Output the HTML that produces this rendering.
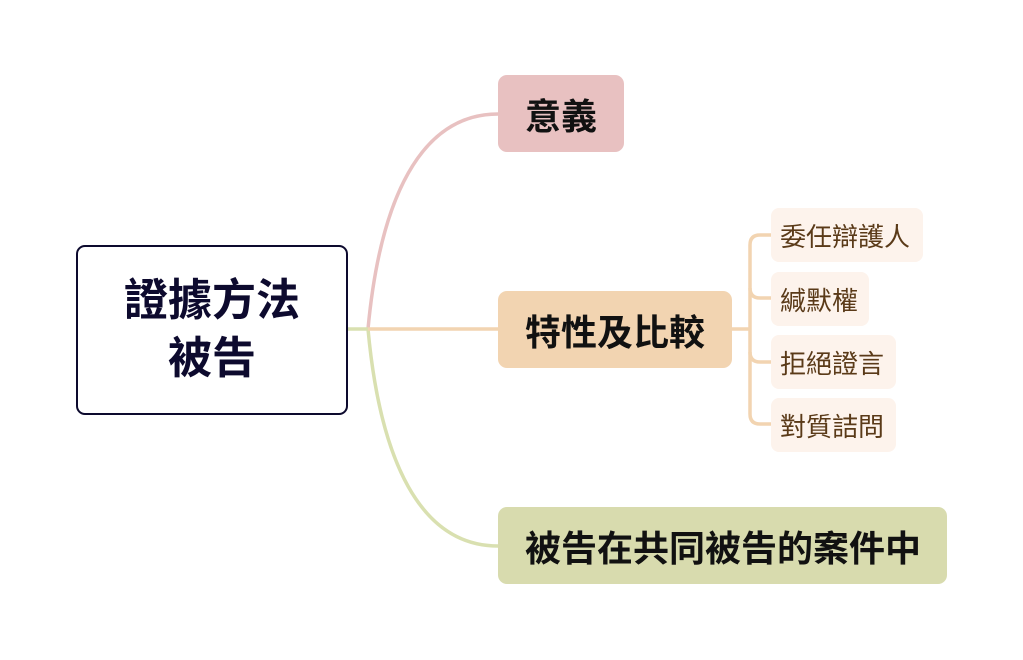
<!DOCTYPE html>
<html><head><meta charset="utf-8">
<style>
body{margin:0;width:1023px;height:660px;background:#fff;position:relative;overflow:hidden;font-family:"Liberation Sans","Noto Sans CJK TC",sans-serif;}
.n{position:absolute;box-sizing:border-box;display:flex;align-items:center;white-space:nowrap;}
.main{left:76px;top:245px;width:272px;height:170px;border:2.5px solid #0d0a2e;border-radius:9px;font-size:44px;font-weight:bold;color:#0d0a2e;text-align:center;line-height:58px;background:#fff;justify-content:center;}
.l1{height:77px;border-radius:9px;font-size:36px;font-weight:bold;color:#111;padding-left:27px;}
.l2{height:54px;border-radius:8px;background:#fdf3ec;font-size:26px;color:#5a3a18;padding-left:9px;}
</style></head><body>
<svg width="1023" height="660" style="position:absolute;left:0;top:0" fill="none" stroke-width="3.5">
<path d="M368 329 C 380 200, 420 114, 498 114" stroke="#e8c1c1"/>
<path d="M368 329 C 380 460, 420 546, 498 546" stroke="#d9e0b0"/>
<path d="M348 329 L368 329" stroke="#d9e0b0"/>
<path d="M368 329 L498 329" stroke="#f2d4b1"/>
<g stroke="#f2d4b1">
<path d="M732 329 L750 329"/>
<path d="M771 235 L760 235 Q750 235 750 245 L750 414 Q750 424 760 424 L771 424"/>
<path d="M750 288 Q750 298 760 298 L771 298"/>
<path d="M750 352 Q750 362 760 362 L771 362"/>
</g>
</svg>
<div class="n main">證據方法<br>被告</div>
<div class="n l1" style="left:498px;top:75px;width:126px;background:#e8c1c1">意義</div>
<div class="n l1" style="left:498px;top:291px;width:234px;background:#f2d4b1">特性及比較</div>
<div class="n l1" style="left:498px;top:507px;width:449px;background:#d8dbae">被告在共同被告的案件中</div>
<div class="n l2" style="left:771px;top:208px;width:152px">委任辯護人</div>
<div class="n l2" style="left:771px;top:272px;width:98px">緘默權</div>
<div class="n l2" style="left:771px;top:335px;width:125px">拒絕證言</div>
<div class="n l2" style="left:771px;top:398px;width:125px">對質詰問</div>
</body></html>
